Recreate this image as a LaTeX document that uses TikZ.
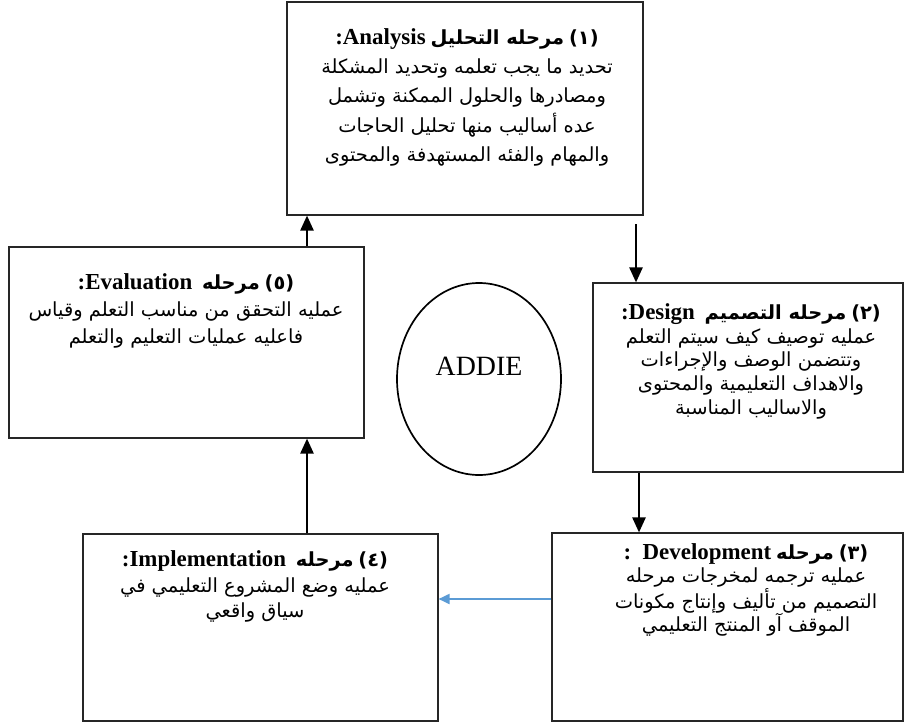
\documentclass[tikz,border=0pt]{standalone}
\usepackage{fontspec}
\setmainfont{Liberation Serif}
\newfontfamily\arabicfont[Script=Arabic]{DejaVu Sans}
\TeXXeTstate=1
\usetikzlibrary{arrows.meta,shapes.geometric}
\newcommand\AR[1]{{\arabicfont\beginR #1\endR}}
\newcommand\ARB[1]{{\arabicfont\bfseries\beginR #1\endR}}
\newcommand\LB[1]{{\fontsize{23}{23}\selectfont\bfseries #1}}
\newcommand\NUM[1]{{\arabicfont\bfseries (#1)}}
\definecolor{arrowblue}{RGB}{91,155,213}
\tikzset{
  box/.style={draw=black!85, line width=1.1bp, inner sep=0pt},
  txt/.style={align=center, inner sep=0pt, font=\fontsize{19.5}{#1}\selectfont},
  arr/.style={line width=2.4bp, -{Triangle[length=15bp,width=13bp]}},
  barr/.style={draw=arrowblue, line width=1.8bp, -{Triangle[length=11bp,width=10bp]}},
  ring/.style={draw=black, line width=1.7bp, ellipse, inner sep=0pt}
}
\begin{document}
\begin{tikzpicture}[x=1bp,y=-1bp]
\useasboundingbox (0,0) rectangle (905,726);
% boxes
\node[box, minimum width=356bp, minimum height=213bp] (A) at (465,108.5) {};
\node[box, minimum width=355bp, minimum height=191bp] (E) at (186.5,342.5) {};
\node[box, minimum width=310bp, minimum height=189bp] (D) at (748,377.5) {};
\node[box, minimum width=351bp, minimum height=188bp] (V) at (727.5,627) {};
\node[box, minimum width=355bp, minimum height=187bp] (I) at (260.5,627.5) {};
\node[ring, minimum width=164bp, minimum height=192bp] (C) at (479,379) {};
\node[font=\fontsize{28}{28}\selectfont] (Ct) at (479,366) {ADDIE};
% texts
\node[txt=29.5, anchor=north] (At) at (467,28) {%
  {\LB{:Analysis}}\ \ARB{مرحله التحليل}\ \NUM{١}\\
  \AR{تحديد ما يجب تعلمه  وتحديد المشكلة}\\
  \AR{ومصادرها والحلول الممكنة وتشمل}\\
  \AR{عده أساليب منها تحليل الحاجات}\\
  \AR{والمهام والفئه المستهدفة والمحتوى}};
\node[txt=27.5, anchor=north] (Et) at (186,273) {%
  {\LB{:Evaluation}}\ \ \ARB{مرحله}\ \NUM{٥}\\
  \AR{عمليه التحقق من مناسب التعلم وقياس}\\
  \AR{فاعليه عمليات التعليم والتعلم}};
\node[txt=24, anchor=north] (Dt) at (751,303) {%
  {\LB{:Design}}\ \ \ARB{مرحله التصميم}\ \NUM{٢}\\
  \AR{عمليه توصيف كيف سيتم التعلم}\\
  \AR{وتتضمن الوصف والإجراءات}\\
  \AR{والاهداف التعليمية والمحتوى}\\
  \AR{والاساليب  المناسبة}};
\node[txt=23.5, anchor=north] (Vt) at (746,543) {%
  {\LB{:\ \ Development}}\ \ARB{مرحله}\ \NUM{٣}\\
  \AR{عمليه ترجمه لمخرجات مرحله}\\
  \AR{التصميم من تأليف وإنتاج مكونات}\\
  \AR{الموقف آو المنتج التعليمي}};
\node[txt=26, anchor=north] (It) at (255,550) {%
  {\LB{:Implementation}}\ \ \ARB{مرحله}\ \NUM{٤}\\
  \AR{عمليه وضع المشروع التعليمي في}\\
  \AR{سياق واقعي}};
% connector columns
\coordinate (c1) at (307,0);
\coordinate (c2) at (636,224);
\coordinate (c3) at (639,0);
\coordinate (c4) at (0,599);
\draw[arr] (I.north -| c1) -- (E.south -| c1);
\draw[arr] (E.north -| c1) -- (A.south -| c1);
\draw[arr] (c2) -- (D.north -| c2);
\draw[arr] (D.south -| c3) -- (V.north -| c3);
\draw[barr] (V.west |- c4) -- (I.east |- c4);
\end{tikzpicture}
\end{document}
